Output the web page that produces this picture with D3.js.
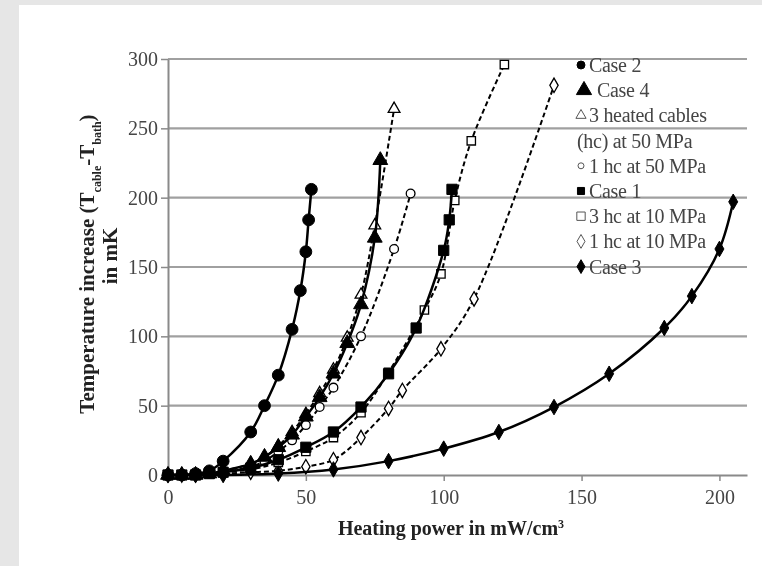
<!DOCTYPE html>
<html>
<head>
<meta charset="utf-8">
<script src="https://cdn.jsdelivr.net/npm/d3@7"></script>
<style>
body { margin: 0; background: #fff; }
svg { display: block; }
</style>
</head>
<body>
<svg width="762" height="566"></svg>
<script>
// tick values
var xTicks = [0, 50, 100, 150, 200];
var yTicks = [0, 50, 100, 150, 200, 250, 300];

// series, [heating power, temperature increase]
var case2 = [[0,0],[5,0],[10,1],[15,3],[20,10],[30,31],[35,50],[40,72],[45,105],[48,133],[50,161],[51,184],[52,206]];
var case4 = [[0,0],[5,0],[10,0],[15,1],[20,3],[30,8],[35,13],[40,20],[45,29],[50,42],[55,56],[60,73],[65,95],[70,123],[75,171],[77,227]];
var hc3at50 = [[0,0],[5,0],[10,0],[15,1],[20,3],[30,8],[35,13],[40,21],[45,31],[50,44],[55,59],[60,76],[65,99],[70,130],[75,180],[82,264]];
var hc1at50 = [[0,0],[5,0],[10,0],[15,1],[20,2],[30,6],[35,10],[40,17],[45,25],[50,36],[55,49],[60,63],[70,100],[82,163],[88,203]];
var case1 = [[0,0],[5,0],[10,0],[15,1],[20,2],[30,5],[40,11],[50,20],[60,31],[70,49],[80,73],[90,106],[100,162],[102,184],[103,206]];
var hc3at10 = [[0,0],[5,0],[10,0],[15,1],[20,2],[30,4],[40,9],[50,17],[60,27],[70,45],[80,74],[93,119],[99,145],[104,198],[110,241],[122,296]];
var hc1at10 = [[0,0],[5,0],[10,0],[20,1],[30,2],[40,3],[50,6],[60,11],[70,27],[80,48],[85,61],[99,91],[111,127],[140,281]];
var case3 = [[0,0],[10,0],[20,0],[40,1],[60,4],[80,10],[100,19],[120,31],[140,49],[160,73],[180,106],[190,129],[200,163],[205,197]];

var legendLabels = ["Case 2", "Case 4", "3 heated cables", "(hc) at 50 MPa", "1 hc at 50 MPa", "Case 1", "3 hc at 10 MPa", "1 hc at 10 MPa", "Case 3"];

var series = [
    {data: hc1at10, shape: d3.symbolDiamond, size: 60, filled: false, dashed: true},
    {data: hc3at10, shape: d3.symbolSquare, size: 70, filled: false, dashed: true},
    {data: hc1at50, shape: d3.symbolCircle, size: 60, filled: false, dashed: true},
    {data: hc3at50, shape: d3.symbolTriangle, size: 60, filled: false, dashed: true},
    {data: case3, shape: d3.symbolDiamond, size: 70, filled: true, dashed: false},
    {data: case1, shape: d3.symbolSquare, size: 105, filled: true, dashed: false},
    {data: case4, shape: d3.symbolTriangle, size: 95, filled: true, dashed: false},
    {data: case2, shape: d3.symbolCircle, size: 110, filled: true, dashed: false}
];

var svg = d3.select("svg");

var defs = svg.append("defs");
defs.append("filter")
    .attr("id", "soft")
    .append("feGaussianBlur")
    .attr("stdDeviation", 0.55);

// grey frame on the left and top
svg.append("rect").attr("width", 762).attr("height", 566).attr("fill", "#e6e6e6");
svg.append("rect").attr("x", 19).attr("y", 5).attr("width", 743).attr("height", 561).attr("fill", "#fff");

var x = d3.scaleLinear().domain([0, 210]).range([168, 747]);
var y = d3.scaleLinear().domain([0, 300]).range([475, 59]);

var chart = svg.append("g").attr("filter", "url(#soft)");

// gridlines
chart.append("g")
    .selectAll("line")
    .data(yTicks.slice(1))
    .enter().append("line")
    .attr("x1", x(0))
    .attr("x2", x(210))
    .attr("y1", function(d) { return y(d); })
    .attr("y2", function(d) { return y(d); })
    .style("stroke", "#a0a0a0")
    .style("stroke-width", 2.2);

var yAxis = chart.append("g")
    .attr("transform", "translate(" + x(0) + ",0)")
    .call(d3.axisLeft(y).tickValues(yTicks).tickSize(7).tickSizeOuter(0).tickPadding(3));

var xAxis = chart.append("g")
    .attr("transform", "translate(0," + y(0) + ")")
    .call(d3.axisBottom(x).tickValues(xTicks).tickSize(6).tickSizeOuter(0).tickPadding(9));

[yAxis, xAxis].forEach(function(a) {
    a.select(".domain").style("stroke", "#8a8a8a").style("stroke-width", 2);
    a.selectAll(".tick line").style("stroke", "#8a8a8a").style("stroke-width", 1.5);
    a.selectAll(".tick text")
        .style("font-family", "'Liberation Serif', serif")
        .style("font-size", "20px")
        .style("fill", "#444");
});
xAxis.selectAll(".tick").filter(function(d) { return d === 0; }).select("line").remove();

var line = d3.line()
    .x(function(d) { return x(d[0]); })
    .y(function(d) { return y(d[1]); })
    .curve(d3.curveCatmullRom.alpha(0.5));

series.forEach(function(s) {
    chart.append("path")
        .datum(s.data)
        .attr("d", line)
        .style("fill", "none")
        .style("stroke", "#000")
        .style("stroke-width", s.dashed ? 2 : 2.5)
        .style("stroke-dasharray", s.dashed ? "5,3" : null);

    chart.append("g")
        .selectAll("path")
        .data(s.data)
        .enter().append("path")
        .attr("transform", function(d) { return "translate(" + x(d[0]) + "," + y(d[1]) + ")"; })
        .attr("d", d3.symbol().type(s.shape).size(s.size))
        .style("fill", s.filled ? "#000" : "#fff")
        .style("stroke", "#000")
        .style("stroke-width", s.filled ? 1 : 1.3);
});

// legend
var legendMarks = [
    {shape: d3.symbolCircle, size: 50, filled: true},
    {shape: d3.symbolTriangle, size: 100, filled: true},
    {shape: d3.symbolTriangle, size: 45, filled: false},
    null,
    {shape: d3.symbolCircle, size: 28, filled: false},
    {shape: d3.symbolSquare, size: 50, filled: true},
    {shape: d3.symbolSquare, size: 70, filled: false},
    {shape: d3.symbolDiamond, size: 55, filled: false},
    {shape: d3.symbolDiamond, size: 55, filled: true}
];

var legend = chart.append("g")
    .selectAll("g")
    .data(legendLabels)
    .enter().append("g")
    .attr("transform", function(d, i) { return "translate(0," + (65 + i * 25.2) + ")"; });

legend.each(function(d, i) {
    var m = legendMarks[i];
    if (!m) return;
    d3.select(this).append("path")
        .attr("transform", "translate(" + (i === 1 ? 584 : 581) + ",0)")
        .attr("d", d3.symbol().type(m.shape).size(m.size))
        .style("fill", m.filled ? "#000" : "#fff")
        .style("stroke", m.filled ? "#000" : "#555")
        .style("stroke-width", 1);
});

legend.append("text")
    .attr("x", function(d, i) { return i === 3 ? 577 : (i === 1 ? 597 : 589); })
    .attr("dy", "0.35em")
    .style("font-family", "'Liberation Serif', serif")
    .style("font-size", "20px")
    .style("letter-spacing", "-0.3px")
    .style("fill", "#444")
    .text(function(d) { return d; });

// axis titles
var yTitle = chart.append("text")
    .attr("transform", "translate(94,264) rotate(-90)")
    .attr("text-anchor", "middle")
    .style("font-family", "'Liberation Serif', serif")
    .style("font-size", "21px")
    .style("font-weight", "bold")
    .style("fill", "#222");
yTitle.append("tspan").text("Temperature increase (T");
yTitle.append("tspan").attr("baseline-shift", "sub").style("font-size", "12px").text("cable");
yTitle.append("tspan").text("-T");
yTitle.append("tspan").attr("baseline-shift", "sub").style("font-size", "12px").text("bath");
yTitle.append("tspan").text(")");

chart.append("text")
    .attr("transform", "translate(117,256) rotate(-90)")
    .attr("text-anchor", "middle")
    .style("font-family", "'Liberation Serif', serif")
    .style("font-size", "21px")
    .style("font-weight", "bold")
    .style("fill", "#222")
    .text("in mK");

var xTitle = chart.append("text")
    .attr("x", 451)
    .attr("y", 535)
    .attr("text-anchor", "middle")
    .style("font-family", "'Liberation Serif', serif")
    .style("font-size", "20px")
    .style("font-weight", "bold")
    .style("fill", "#222");
xTitle.append("tspan").text("Heating power in mW/cm");
xTitle.append("tspan").attr("baseline-shift", "super").style("font-size", "12px").text("3");
</script>
</body>
</html>
